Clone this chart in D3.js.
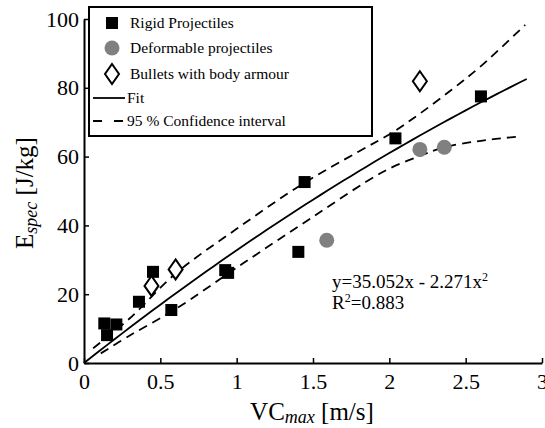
<!DOCTYPE html>
<html><head><meta charset="utf-8">
<script src="https://cdn.jsdelivr.net/npm/d3@7"></script>
<style>body{margin:0;background:#fff}svg{display:block}</style>
</head><body>
<svg id="c" width="545" height="428"></svg>
<script>
// ---- data ----
const rigidX = [0.133, 0.151, 0.212, 0.36, 0.452, 0.572, 0.925, 0.944, 1.404, 1.445, 2.04, 2.60];
const rigidY = [11.5, 8.1, 11.2, 17.8, 26.5, 15.4, 27.0, 26.2, 32.3, 52.6, 65.3, 77.5];
const deformX = [1.59, 2.20, 2.36];
const deformY = [35.7, 62.1, 62.7];
const armourX = [0.442, 0.60, 2.20];
const armourY = [22.4, 27.2, 81.9];
const fitA = 35.052, fitB = -2.271;
const upperX = [0.06, 0.3, 0.6, 1.0, 1.43, 1.8, 2.02, 2.2, 2.41, 2.6, 2.89];
const upperY = [4.3, 13.0, 26.0, 39.0, 52.0, 61.5, 67.0, 72.5, 79.5, 86.3, 98.3];
const lowerX = [0.11, 0.3, 0.59, 1.04, 1.5, 1.96, 2.2, 2.36, 2.6, 2.84];
const lowerY = [2.8, 8.0, 15.4, 28.9, 42.5, 55.6, 60.2, 62.7, 64.6, 65.8];
const xTicks = [0, 0.5, 1, 1.5, 2, 2.5, 3];
const yTicks = [0, 20, 40, 60, 80, 100];
const legendLabels = ["Rigid Projectiles", "Deformable projectiles", "Bullets with body armour", "Fit", "95 % Confidence interval"];

// ---- layout ----
const FONT = '"Liberation Serif", "DejaVu Serif", serif';
const svg = d3.select("#c");
const x = d3.scaleLinear().domain([0, 3]).range([84, 542]);
const y = d3.scaleLinear().domain([0, 100]).range([363, 19]);

// axes
const xAxis = d3.axisBottom(x).tickValues(xTicks).tickSizeInner(-5).tickSizeOuter(0).tickPadding(10).tickFormat(d => d);
const gx = svg.append("g").attr("transform", "translate(0,363)").call(xAxis);
gx.select(".domain").attr("stroke", "#000").attr("stroke-width", 2);
gx.selectAll(".tick line").attr("stroke", "#000").attr("stroke-width", 1.5);
gx.selectAll(".tick text").style("font-family", FONT).style("font-size", "22px").attr("fill", "#000");

const yAxis = d3.axisLeft(y).tickValues(yTicks).tickSizeInner(-5).tickSizeOuter(0).tickPadding(5);
const gy = svg.append("g").attr("transform", "translate(84,0)").call(yAxis);
gy.select(".domain").attr("stroke", "#000").attr("stroke-width", 2);
gy.selectAll(".tick line").attr("stroke", "#000").attr("stroke-width", 1.5);
gy.selectAll(".tick text").style("font-family", FONT).style("font-size", "22px").attr("fill", "#000");

// axis titles
const xt = svg.append("text").attr("x", 312).attr("y", 420).attr("text-anchor", "middle")
  .style("font-family", FONT).style("font-size", "25px").attr("fill", "#000");
xt.append("tspan").text("VC");
xt.append("tspan").attr("font-style", "italic").style("font-size", "18px").attr("dy", 3).text("max");
xt.append("tspan").attr("dy", -3).text(" [m/s]");

const yt = svg.append("text").attr("transform", "translate(33,193) rotate(-90)").attr("text-anchor", "middle")
  .style("font-family", FONT).style("font-size", "25px").attr("fill", "#000");
yt.append("tspan").text("E");
yt.append("tspan").attr("font-style", "italic").style("font-size", "18px").attr("dy", 4).text("spec");
yt.append("tspan").attr("dy", -4).text(" [J/kg]");

// lines
const line = d3.line().x(d => x(d[0])).y(d => y(d[1]));
const fitPts = d3.range(0, 2.9001, 0.05).map(v => [v, fitA * v + fitB * v * v]);
svg.append("path").attr("d", line(fitPts)).attr("fill", "none").attr("stroke", "#000").attr("stroke-width", 1.8);
const curve = d3.line().x(d => x(d[0])).y(d => y(d[1])).curve(d3.curveCatmullRom);
svg.append("path").attr("d", curve(upperX.map((v, i) => [v, upperY[i]])))
  .attr("fill", "none").attr("stroke", "#000").attr("stroke-width", 1.8).attr("stroke-dasharray", "9,6");
svg.append("path").attr("d", curve(lowerX.map((v, i) => [v, lowerY[i]])))
  .attr("fill", "none").attr("stroke", "#000").attr("stroke-width", 1.8).attr("stroke-dasharray", "9,6");

// markers
const sq = 12;
svg.append("g").selectAll("rect").data(rigidX.map((v, i) => [v, rigidY[i]])).join("rect")
  .attr("x", d => x(d[0]) - sq / 2).attr("y", d => y(d[1]) - sq / 2).attr("width", sq).attr("height", sq).attr("fill", "#000");
svg.append("g").selectAll("circle").data(deformX.map((v, i) => [v, deformY[i]])).join("circle")
  .attr("cx", d => x(d[0])).attr("cy", d => y(d[1])).attr("r", 7.5).attr("fill", "#808080");
const diamond = (cx, cy) => `M${cx},${cy - 10}L${cx + 7},${cy}L${cx},${cy + 10}L${cx - 7},${cy}Z`;
svg.append("g").selectAll("path").data(armourX.map((v, i) => [v, armourY[i]])).join("path")
  .attr("d", d => diamond(x(d[0]), y(d[1]))).attr("fill", "#fff").attr("stroke", "#000").attr("stroke-width", 2);

// equation
const eq = svg.append("text").attr("x", 332).attr("y", 288).style("font-family", FONT).style("font-size", "19px").attr("fill", "#000");
eq.append("tspan").text("y=35.052x - 2.271x");
eq.append("tspan").style("font-size", "12px").attr("dy", -7).text("2");
const r2 = svg.append("text").attr("x", 332).attr("y", 309).style("font-family", FONT).style("font-size", "19px").attr("fill", "#000");
r2.append("tspan").text("R");
r2.append("tspan").style("font-size", "12px").attr("dy", -7).text("2");
r2.append("tspan").attr("dy", 7).text("=0.883");

// legend
const lg = svg.append("g");
lg.append("rect").attr("x", 89).attr("y", 7).attr("width", 283).attr("height", 129).attr("fill", "#fff").attr("stroke", "#000").attr("stroke-width", 2);
const rowY = [23, 48, 74, 98, 121];
lg.append("rect").attr("x", 106).attr("y", rowY[0] - 6).attr("width", 12).attr("height", 12).attr("fill", "#000");
lg.append("circle").attr("cx", 112).attr("cy", rowY[1]).attr("r", 7.5).attr("fill", "#808080");
lg.append("path").attr("d", diamond(112, rowY[2])).attr("fill", "#fff").attr("stroke", "#000").attr("stroke-width", 2);
lg.append("line").attr("x1", 93).attr("x2", 125).attr("y1", rowY[3]).attr("y2", rowY[3]).attr("stroke", "#000").attr("stroke-width", 1.8);
lg.append("line").attr("x1", 93).attr("x2", 125).attr("y1", rowY[4]).attr("y2", rowY[4]).attr("stroke", "#000").attr("stroke-width", 1.8).attr("stroke-dasharray", "9,12");
lg.selectAll("text.l").data(legendLabels).join("text").attr("class", "l")
  .attr("x", (d, i) => i < 3 ? 130 : 127).attr("y", (d, i) => rowY[i] + 5)
  .style("font-family", FONT).style("font-size", "15.5px").attr("fill", "#000").text(d => d);
</script>
</body></html>
